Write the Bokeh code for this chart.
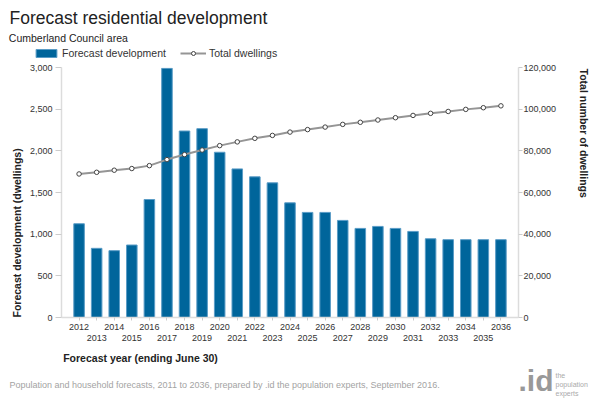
from bokeh.plotting import figure
from bokeh.layouts import column, row
from bokeh.models import (Range1d, LinearAxis, FixedTicker, NumeralTickFormatter,
                          Legend, LegendItem)
from bokeh.core.properties import value
from bokeh.embed import file_html
from bokeh.resources import INLINE

# ---------------- data ----------------
years = list(range(2012, 2037))
forecast_development = [1125, 830, 802, 870, 1416, 2990, 2238, 2266, 1983, 1783,
                        1688, 1616, 1376, 1261, 1261, 1165, 1069, 1093, 1069, 1033,
                        945, 934, 934, 934, 934]
total_dwellings = [68900, 69700, 70700, 71500, 72900, 75800, 78200, 80400, 82500, 84300,
                   86000, 87400, 89000, 90200, 91400, 92700, 93700, 94800, 95900, 97000,
                   98000, 98900, 99900, 100700, 101600]
even_year_labels = [y for y in years if y % 2 == 0]
odd_year_labels = [y for y in years if y % 2 == 1]
left_ticks = [0, 500, 1000, 1500, 2000, 2500, 3000]
right_ticks = [0, 20000, 40000, 60000, 80000, 100000, 120000]

title_text = "Forecast residential development"
subtitle_text = "Cumberland Council area"
legend_labels = ["Forecast development", "Total dwellings"]
x_title = "Forecast year (ending June 30)"
y_title = "Forecast development (dwellings)"
y2_title = "Total number of dwellings"
footer_text = ("Population and household forecasts, 2011 to 2036, prepared by .id the "
               "population experts, September 2016.")
logo_text = ".id"
logo_lines = ["the", "population", "experts"]

FONT = "Liberation Sans"
BAR = "#00659b"
BAR_EDGE = "#5a9cc6"
LINE = "#959595"
W, H = 592, 400
HEAD_H = 59
FOOT_H = 51
MID_H = H - HEAD_H - FOOT_H
LEFT_W, RIGHT_W = 26, 18
MAIN_W = W - LEFT_W - RIGHT_W


def no_align(f):
    try:
        f.frame_align = False
    except Exception:
        pass


def strip(w, h):
    f = figure(width=w, height=h, output_backend="svg", toolbar_location=None,
               x_range=Range1d(0, w), y_range=Range1d(0, h), min_border=0,
               x_axis_type=None, y_axis_type=None)
    f.outline_line_color = None
    f.background_fill_color = "white"
    f.border_fill_color = "white"
    no_align(f)
    return f


def put(f, h, text, x, ytop, size, color="#222222", style="normal", align="left",
        baseline="middle", angle=0):
    f.text(x=[x], y=[h - ytop], text=[text], text_font=value(FONT),
           text_font_size=value(size), text_color=color, text_font_style=style,
           text_align=align, text_baseline=baseline, angle=angle, angle_units="deg")


# ---------------- main chart ----------------
p = figure(width=MAIN_W, height=MID_H, output_backend="svg", toolbar_location=None,
           x_range=Range1d(2011, 2037), y_range=Range1d(0, 3000),
           min_border_left=35, min_border_right=56, min_border_top=8,
           min_border_bottom=32, x_axis_type=None, y_axis_type=None)
no_align(p)
p.outline_line_color = None
p.background_fill_color = "white"
p.border_fill_color = "white"
p.extra_y_ranges = {"dw": Range1d(0, 120000)}

p.ygrid.grid_line_color = "#cfcfcf"
p.ygrid.grid_line_dash = "2 2"
p.xgrid.grid_line_color = None


def style_axis(ax):
    ax.axis_line_color = "#dcdcdc"
    ax.axis_line_width = 1.5
    ax.major_tick_line_color = "#cccccc"
    ax.major_tick_in = 0
    ax.minor_tick_line_color = None
    ax.major_label_text_font = FONT
    ax.major_label_text_font_size = "9px"
    ax.major_label_text_color = "#333333"


yl = LinearAxis(ticker=FixedTicker(ticks=left_ticks),
                formatter=NumeralTickFormatter(format="0,0"))
style_axis(yl)
yl.major_tick_out = 6
yl.major_label_standoff = 3
p.add_layout(yl, "left")

yr = LinearAxis(y_range_name="dw", ticker=FixedTicker(ticks=right_ticks),
                formatter=NumeralTickFormatter(format="0,0"))
style_axis(yr)
yr.major_tick_out = 4
yr.major_label_standoff = 1
p.add_layout(yr, "right")

xa = LinearAxis(ticker=FixedTicker(ticks=years),
                major_label_overrides={y: ("" if y % 2 else str(y)) for y in years})
style_axis(xa)
xa.major_tick_out = 3
xa.major_label_standoff = 3
p.add_layout(xa, "below")

xb = LinearAxis(ticker=FixedTicker(ticks=odd_year_labels),
                major_label_overrides={y: str(y) for y in odd_year_labels})
style_axis(xb)
xb.axis_line_color = None
xb.major_tick_line_color = None
xb.major_tick_out = 0
xb.major_label_standoff = 2
p.add_layout(xb, "below")

p.vbar(x=years, top=forecast_development, width=0.6, fill_color=BAR,
       line_color=BAR_EDGE, line_width=1)
p.line(x=years, y=total_dwellings, y_range_name="dw", line_color=LINE, line_width=2)
p.scatter(x=years, y=total_dwellings, y_range_name="dw", marker="circle",
          size=4.5, fill_color="white", line_color="#444444", line_width=1)

# ---------------- header: title, subtitle, legend ----------------
head = strip(W, HEAD_H)
put(head, HEAD_H, title_text, 9, 17, "17.5px", baseline="alphabetic")
put(head, HEAD_H, subtitle_text, 8.3, 37, "10.5px", baseline="alphabetic")
# legend swatches: the same series, lying outside the header's visible data space
hb = head.vbar(x=years, top=forecast_development, width=0.6, fill_color=BAR,
               line_color=BAR_EDGE, line_width=1)
hl = head.line(x=years, y=total_dwellings, line_color=LINE, line_width=2)
hs = head.scatter(x=years, y=total_dwellings, marker="circle", size=4.5,
                  fill_color="white", line_color="#444444", line_width=1)
legend = Legend(items=[LegendItem(label=legend_labels[0], renderers=[hb]),
                       LegendItem(label=legend_labels[1], renderers=[hl, hs])],
                orientation="horizontal", location=(33, 0))
legend.padding = 0
legend.margin = 0
legend.spacing = 14
legend.glyph_width = 26
legend.glyph_height = 10
legend.label_height = 12
legend.label_standoff = 3
legend.label_text_font = FONT
legend.label_text_font_size = "10.5px"
legend.label_text_color = "#333333"
legend.border_line_color = None
legend.background_fill_alpha = 0
head.add_layout(legend)

# ---------------- side strips: axis titles ----------------
left = strip(LEFT_W, MID_H)
put(left, MID_H, y_title, 16, 258, "10.5px", style="bold", angle=90)
right = strip(RIGHT_W, MID_H)
put(right, MID_H, y2_title, 9, 9, "10.5px", style="bold", angle=-90)

# ---------------- footer ----------------
foot = strip(W, FOOT_H)
put(foot, FOOT_H, x_title, 62.7, 8, "10.5px", style="bold")
put(foot, FOOT_H, footer_text, 9, 35, "9px", color="#a3a3a3")
put(foot, FOOT_H, logo_text, 518, 31, "30px", color="#999999", style="bold")
for i, t in enumerate(logo_lines):
    put(foot, FOOT_H, t, 555, 26 + 9 * i, "7px", color="#aaaaaa")

layout = column(head, row(left, p, right, spacing=0), foot, spacing=0)

open("out.html", "w").write(file_html(layout, INLINE))
